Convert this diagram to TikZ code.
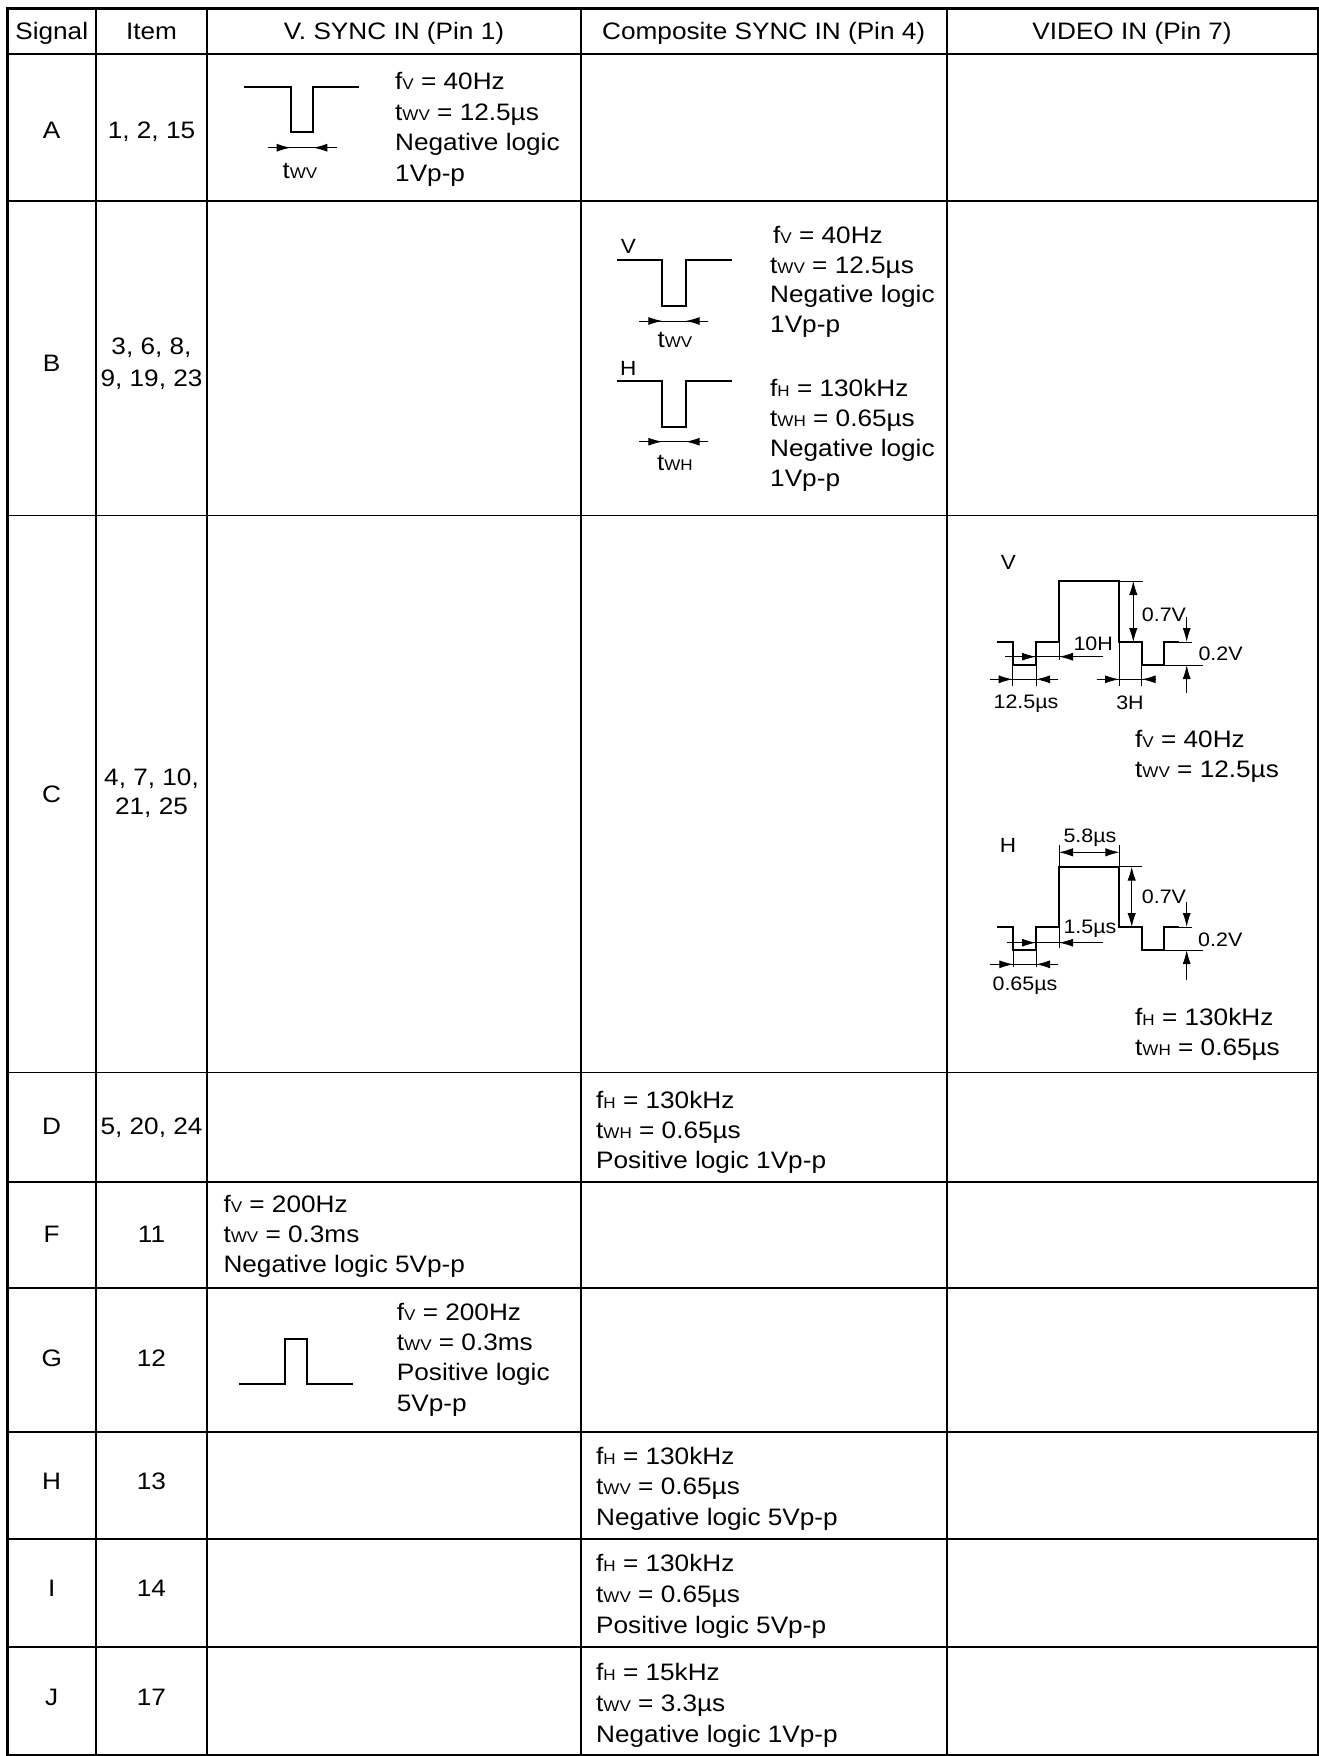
\documentclass[tikz,border=0pt]{standalone}
\usepackage{fontspec}
\setmainfont{Liberation Sans}[FakeStretch=1.1]
\usetikzlibrary{arrows.meta}
\newcommand\mainfs{\fontsize{23.8}{30}\selectfont}
\newcommand\subfs{\fontsize{15.5}{18}\selectfont}
\newcommand\lblfs{\fontsize{19.5}{22}\selectfont}
\newcommand\wvfs{\fontsize{20.5}{22}\selectfont}
\newcommand\lo[1]{{\subfs #1}}
\newcommand\tlab[1]{{\fontsize{23.5}{24}\selectfont t}{\fontsize{15.5}{16}\selectfont #1}}
\begin{document}
\begin{tikzpicture}[x=1pt,y=-1pt,
  txt/.style={anchor=base west,inner sep=0pt,font=\mainfs},
  ctr/.style={anchor=base,inner sep=0pt,font=\mainfs},
  lbl/.style={inner sep=0pt,font=\lblfs},
  wl/.style={inner sep=0pt,font=\wvfs},
  grid/.style={line width=1.8pt},
  outer/.style={line width=2.8pt},
  wave/.style={line width=2pt,line join=miter},
  dim/.style={line width=1pt},
  dimarrow/.style={line width=1pt,-{Latex[length=14pt,width=8pt]}},
  dimboth/.style={line width=1pt,{Latex[length=14pt,width=8.5pt]}-{Latex[length=14pt,width=8.5pt]}},
]
\useasboundingbox (0,0) rectangle (1319,1756);
\fill[white] (0,0) rectangle (1319,1756);
% ---- grid ----
\foreach \xx in {96,207,580.7,946.7} \draw[grid] (\xx,8.3) -- (\xx,1755);
\foreach \yy in {54,201,515.5,1072.5,1182,1288,1432,1539.3,1646.7} \draw[grid] (7.3,\yy) -- (1318,\yy);
\draw[outer] (7.3,8.3) rectangle (1318,1755);
% ---- header ----
\node[ctr] (hsig) at (51.7,39) {Signal};
\node[ctr] (hitem) at (151.5,39) {Item};
\node[ctr] (hv) at (394,39) {V. SYNC IN (Pin 1)};
\node[ctr] (hc) at (763.7,39) {Composite SYNC IN (Pin 4)};
\node[ctr] (hvid) at (1132,39) {VIDEO IN (Pin 7)};
% ---- signal letters ----
\node[ctr] (sA) at (51.7,138) {A};
\node[ctr] (sB) at (51.7,371.5) {B};
\node[ctr] (sC) at (51.7,802) {C};
\node[ctr] (sD) at (51.7,1134.5) {D};
\node[ctr] (sF) at (51.7,1242.5) {F};
\node[ctr] (sG) at (51.7,1366.5) {G};
\node[ctr] (sH) at (51.7,1489.5) {H};
\node[ctr] (sI) at (51.7,1596) {I};
\node[ctr] (sJ) at (51.7,1705.5) {J};
% ---- items ----
\node[ctr] (iA) at (151.5,138) {1, 2, 15};
\node[ctr] (iB1) at (151.5,354.5) {3, 6, 8,};
\node[ctr] (iB2) at (151.5,386) {9, 19, 23};
\node[ctr] (iC1) at (151.5,785) {4, 7, 10,};
\node[ctr] (iC2) at (151.5,814.5) {21, 25};
\node[ctr] (iD) at (151.5,1134.5) {5, 20, 24};
\node[ctr] (iF) at (151.5,1242.5) {11};
\node[ctr] (iG) at (151.5,1366.5) {12};
\node[ctr] (iH) at (151.5,1489.5) {13};
\node[ctr] (iI) at (151.5,1596) {14};
\node[ctr] (iJ) at (151.5,1705.5) {17};
% ---- row A ----
\draw[wave] (244.3,86.7) -- (290.7,86.7) -- (290.7,131.7) -- (313.3,131.7) -- (313.3,86.7) -- (359.3,86.7);
\draw[dim] (267.7,147.7) -- (336.7,147.7);
\draw[dimarrow] (267.7,147.7) -- (290.7,147.7);
\draw[dimarrow] (336.7,147.7) -- (313.3,147.7);
\node[inner sep=0pt] (aTw) at (300,170.7) {\tlab{WV}};
\node[txt] (a1) at (395,89.5) {f\lo{V} = 40Hz};
\node[txt] (a2) at (395,120) {t\lo{WV} = 12.5µs};
\node[txt] (a3) at (395,150.5) {Negative logic};
\node[txt] (a4) at (395,181) {1Vp-p};
% ---- row B ----
\node[wl] (bV) at (628.3,246.7) {V};
\draw[wave] (616.7,260) -- (662.3,260) -- (662.3,305.7) -- (685.7,305.7) -- (685.7,260) -- (731.7,260);
\draw[dim] (639.3,321) -- (708.3,321);
\draw[dimarrow] (639.3,321) -- (662.3,321);
\draw[dimarrow] (708.3,321) -- (685.7,321);
\node[inner sep=0pt] (bTw) at (675,340) {\tlab{WV}};
\node[wl] (bH) at (628.3,368.3) {H};
\draw[wave] (616.7,381) -- (662.3,381) -- (662.3,426.7) -- (685.7,426.7) -- (685.7,381) -- (731.7,381);
\draw[dim] (639.3,441.7) -- (708.3,441.7);
\draw[dimarrow] (639.3,441.7) -- (662.3,441.7);
\draw[dimarrow] (708.3,441.7) -- (685.7,441.7);
\node[inner sep=0pt] (bTh) at (675,463.3) {\tlab{WH}};
\node[txt] (b1) at (773,243.5) {f\lo{V} = 40Hz};
\node[txt] (b2) at (770,273) {t\lo{WV} = 12.5µs};
\node[txt] (b3) at (770,302.5) {Negative logic};
\node[txt] (b4) at (770,332) {1Vp-p};
\node[txt] (b5) at (770,396) {f\lo{H} = 130kHz};
\node[txt] (b6) at (770,426) {t\lo{WH} = 0.65µs};
\node[txt] (b7) at (770,456) {Negative logic};
\node[txt] (b8) at (770,486) {1Vp-p};
% ---- row C : V ----
\node[wl] (cV) at (1008.3,562.3) {V};
\draw[wave] (997.3,642) -- (1012.7,642) -- (1012.7,665) -- (1036,665) -- (1036,642) -- (1059,642) -- (1059,581) -- (1119,581) -- (1119,642) -- (1141.7,642) -- (1141.7,665) -- (1164,665) -- (1164,642) -- (1179.3,642);
\draw[dimboth] (1133.3,581) -- (1133.3,642);
\draw[dim] (1119,581) -- (1143,581);
\draw[dimarrow] (1186.7,616.7) -- (1186.7,642);
\draw[dimarrow] (1186.7,693.3) -- (1186.7,665);
\draw[dim] (1179.3,642) -- (1192,642);
\draw[dim] (1164,665) -- (1203.3,665);
\draw[dim] (1005,656.7) -- (1103.3,656.7);
\draw[dimarrow] (1005,656.7) -- (1036,656.7);
\draw[dimarrow] (1103.3,656.7) -- (1059,656.7);
\draw[dim] (1059,642) -- (1059,660);
\draw[dim] (990,679.3) -- (1058.3,679.3);
\draw[dimarrow] (990,679.3) -- (1012.7,679.3);
\draw[dimarrow] (1058.3,679.3) -- (1036,679.3);
\draw[dim] (1012.7,665) -- (1012.7,686);
\draw[dim] (1036,665) -- (1036,686);
\draw[dim] (1096.7,679.3) -- (1155,679.3);
\draw[dimarrow] (1096.7,679.3) -- (1119,679.3);
\draw[dimarrow] (1155,679.3) -- (1141.7,679.3);
\draw[dim] (1119,642) -- (1119,686);
\draw[dim] (1141.7,665) -- (1141.7,686);
\node[lbl,anchor=west] (c07a) at (1141.7,615) {0.7V};
\node[lbl,anchor=west] (c02a) at (1198.3,653.3) {0.2V};
\node[lbl,anchor=west] (c10h) at (1073.3,644) {10H};
\node[lbl] (c125) at (1026,703.5) {12.5µs};
\node[lbl] (c3h) at (1130,702.7) {3H};
\node[txt] (c1) at (1135,747) {f\lo{V} = 40Hz};
\node[txt] (c2) at (1135,777) {t\lo{WV} = 12.5µs};
% ---- row C : H ----
\node[wl] (cH) at (1008,845.7) {H};
\draw[wave] (997.3,927) -- (1013.3,927) -- (1013.3,950) -- (1036,950) -- (1036,927) -- (1059,927) -- (1059,866.7) -- (1119.3,866.7) -- (1119.3,927) -- (1141.7,927) -- (1141.7,950) -- (1164,950) -- (1164,927) -- (1179.3,927);
\draw[dimboth] (1059,852.3) -- (1119.3,852.3);
\draw[dim] (1059,845) -- (1059,866.7);
\draw[dim] (1119.3,845) -- (1119.3,866.7);
\draw[dimboth] (1131.7,866.7) -- (1131.7,927);
\draw[dim] (1119.3,866.7) -- (1141.7,866.7);
\draw[dimarrow] (1186.7,901.7) -- (1186.7,927);
\draw[dimarrow] (1186.7,980) -- (1186.7,950);
\draw[dim] (1179.3,927) -- (1192,927);
\draw[dim] (1164,950) -- (1203.3,950);
\draw[dim] (1006.7,942.7) -- (1103.3,942.7);
\draw[dimarrow] (1006.7,942.7) -- (1036,942.7);
\draw[dimarrow] (1103.3,942.7) -- (1059,942.7);
\draw[dim] (1059,927) -- (1059,948);
\draw[dim] (990,964.3) -- (1058.3,964.3);
\draw[dimarrow] (990,964.3) -- (1013.3,964.3);
\draw[dimarrow] (1058.3,964.3) -- (1036,964.3);
\draw[dim] (1013.3,950) -- (1013.3,967);
\draw[dim] (1036,950) -- (1036,967);
\node[lbl] (c58) at (1090,838) {5.8µs};
\node[lbl,anchor=west] (c07b) at (1141.7,896.7) {0.7V};
\node[lbl,anchor=west] (c02b) at (1198,940) {0.2V};
\node[lbl,anchor=west] (c15) at (1063.3,929) {1.5µs};
\node[lbl] (c065) at (1025,986) {0.65µs};
\node[txt] (c3) at (1135,1025) {f\lo{H} = 130kHz};
\node[txt] (c4) at (1135,1055) {t\lo{WH} = 0.65µs};
% ---- row D ----
\node[txt] (d1) at (596,1108) {f\lo{H} = 130kHz};
\node[txt] (d2) at (596,1138.5) {t\lo{WH} = 0.65µs};
\node[txt] (d3) at (596,1168.5) {Positive logic 1Vp-p};
% ---- row F ----
\node[txt] (f1) at (223.3,1212) {f\lo{V} = 200Hz};
\node[txt] (f2) at (223.3,1242) {t\lo{WV} = 0.3ms};
\node[txt] (f3) at (223.3,1272) {Negative logic 5Vp-p};
% ---- row G ----
\draw[wave] (239.3,1384.3) -- (285,1384.3) -- (285,1339.3) -- (307.3,1339.3) -- (307.3,1384.3) -- (353.3,1384.3);
\node[txt] (g1) at (396.7,1320) {f\lo{V} = 200Hz};
\node[txt] (g2) at (396.7,1350.3) {t\lo{WV} = 0.3ms};
\node[txt] (g3) at (396.7,1380.6) {Positive logic};
\node[txt] (g4) at (396.7,1411) {5Vp-p};
% ---- row H ----
\node[txt] (h1) at (596,1464.5) {f\lo{H} = 130kHz};
\node[txt] (h2) at (596,1494.5) {t\lo{WV} = 0.65µs};
\node[txt] (h3) at (596,1525) {Negative logic 5Vp-p};
% ---- row I ----
\node[txt] (j1) at (596,1571) {f\lo{H} = 130kHz};
\node[txt] (j2) at (596,1602) {t\lo{WV} = 0.65µs};
\node[txt] (j3) at (596,1633) {Positive logic 5Vp-p};
% ---- row J ----
\node[txt] (k1) at (596,1680.5) {f\lo{H} = 15kHz};
\node[txt] (k2) at (596,1711) {t\lo{WV} = 3.3µs};
\node[txt] (k3) at (596,1742) {Negative logic 1Vp-p};
\end{tikzpicture}
\end{document}
